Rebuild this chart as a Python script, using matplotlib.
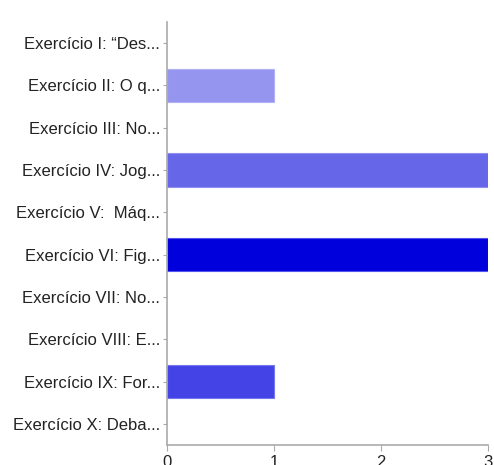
import matplotlib
matplotlib.use("Agg")
import matplotlib.pyplot as plt

categories = [
    "Exercício I: “Des...",
    "Exercício II: O q...",
    "Exercício III: No...",
    "Exercício IV: Jog...",
    "Exercício V:  Máq...",
    "Exercício VI: Fig...",
    "Exercício VII: No...",
    "Exercício VIII: E...",
    "Exercício IX: For...",
    "Exercício X: Deba...",
]
values = [0, 1, 0, 3, 0, 3, 0, 0, 1, 0]
colors = ["#b5b5f5", "#9595f0", "#7f7fec", "#6666e8", "#5555e6",
          "#0000dd", "#2222e2", "#3333e4", "#4444e6", "#5a5aea"]
edges = ["#c8c8f7", "#b0b0f5", "#a0a0f2", "#8f8ff0", "#8080ee",
         "#5555ee", "#6060ee", "#6a6aee", "#7777ef", "#8080f0"]
xticks = [0, 1, 2, 3]

plt.rcParams["font.family"] = ["Liberation Sans", "DejaVu Sans"]

fig = plt.figure(figsize=(4.94, 4.65), dpi=100)
ax = fig.add_axes([167 / 494, 1 - 445 / 465, (488 - 167) / 494, (445 - 22) / 465])

ypos = list(range(len(categories)))
lws = [0.8 if v > 0 else 0 for v in values]
ax.barh(ypos, values, height=0.79, color=colors, edgecolor=edges, linewidth=lws)

ax.set_ylim(len(categories) - 0.5, -0.5)
ax.set_xlim(0, 3)
ax.set_yticks(ypos)
ax.set_yticklabels(categories, fontsize=12, color="#222222")
ax.set_xticks(xticks)
ax.set_xticklabels([str(t) for t in xticks], fontsize=12, color="#222222")

for s in ["top", "right"]:
    ax.spines[s].set_visible(False)
for s in ["left", "bottom"]:
    ax.spines[s].set_color("#aaaaaa")
    ax.spines[s].set_linewidth(1.2)
ax.tick_params(axis="y", length=3, color="#aaaaaa", pad=2)
ax.tick_params(axis="x", length=4, color="#aaaaaa", pad=3)

fig.savefig("out.png", dpi=100)
